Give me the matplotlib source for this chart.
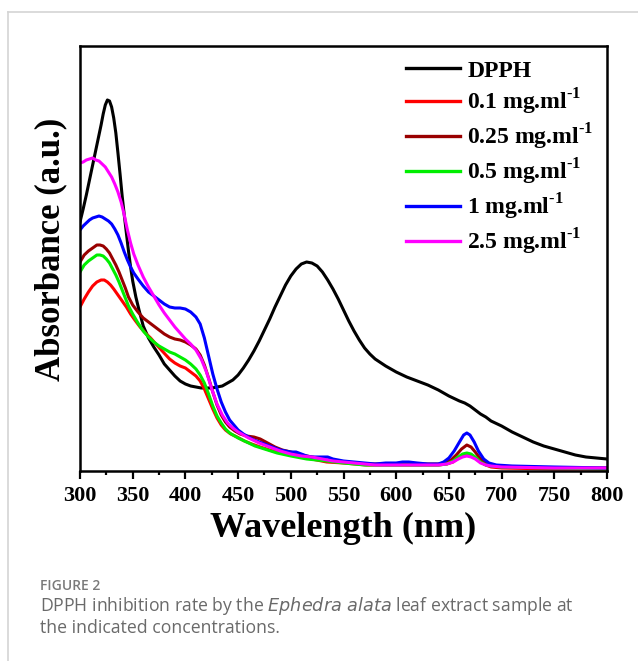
import numpy as np
import matplotlib
matplotlib.use("Agg")
from matplotlib import pyplot as plt
from matplotlib.lines import Line2D

# ---- data (absorbance, arbitrary units) ----
wl_dpph = [300, 303, 306, 309, 312, 315, 318, 320, 322, 324, 326, 328, 330, 332, 334, 336,
           338, 340, 342, 344, 346, 348, 350, 353, 356, 360, 365, 370, 375, 380, 385, 390,
           395, 400, 405, 410, 415, 420, 425, 430, 435, 440, 445, 450, 455, 460, 465, 470,
           475, 480, 485, 490, 495, 500, 505, 510, 515, 520, 525, 530, 535, 540, 545, 550,
           555, 560, 565, 570, 575, 580, 590, 600, 610, 620, 630, 640, 650, 660, 665, 670,
           675, 680, 685, 690, 700, 710, 720, 730, 740, 750, 760, 770, 780, 790, 800]
abs_dpph = [2.49, 2.62, 2.76, 2.91, 3.06, 3.21, 3.36, 3.46, 3.57, 3.66, 3.71, 3.70, 3.64,
            3.53, 3.38, 3.18, 2.97, 2.75, 2.56, 2.38, 2.20, 2.04, 1.90, 1.74, 1.61, 1.45,
            1.33, 1.24, 1.16, 1.07, 1.01, 0.95, 0.90, 0.87, 0.85, 0.84, 0.83, 0.83, 0.83,
            0.84, 0.85, 0.88, 0.91, 0.96, 1.03, 1.11, 1.20, 1.30, 1.41, 1.52, 1.64, 1.75,
            1.86, 1.95, 2.02, 2.07, 2.09, 2.08, 2.05, 1.99, 1.91, 1.82, 1.72, 1.61, 1.50,
            1.40, 1.31, 1.23, 1.17, 1.12, 1.05, 0.99, 0.94, 0.90, 0.86, 0.81, 0.75, 0.70,
            0.68, 0.65, 0.61, 0.57, 0.54, 0.50, 0.45, 0.39, 0.34, 0.29, 0.25, 0.22, 0.19,
            0.16, 0.14, 0.13, 0.12]

wl_01 = [300, 304, 308, 312, 316, 320, 323, 326, 329, 332, 336, 340, 344, 348, 352, 357,
         362, 367, 372, 378, 385, 390, 395, 400, 405, 410, 414, 418, 422, 426, 430, 434,
         438, 443, 449, 456, 463, 471, 480, 490, 502, 515, 534, 550, 572, 600, 620, 640,
         648, 654, 659, 663, 667, 671, 675, 680, 685, 690, 700, 750, 800]
abs_01 = [1.64, 1.72, 1.79, 1.85, 1.89, 1.91, 1.91, 1.89, 1.86, 1.82, 1.76, 1.70, 1.64,
          1.57, 1.51, 1.44, 1.38, 1.33, 1.27, 1.20, 1.12, 1.08, 1.05, 1.03, 0.99, 0.95,
          0.90, 0.82, 0.72, 0.62, 0.53, 0.46, 0.41, 0.37, 0.34, 0.30, 0.27, 0.24, 0.21,
          0.18, 0.16, 0.13, 0.09, 0.08, 0.06, 0.06, 0.06, 0.06, 0.07, 0.09, 0.13, 0.16,
          0.17, 0.16, 0.13, 0.09, 0.06, 0.04, 0.03, 0.02, 0.02]

wl_025 = [300, 304, 308, 312, 316, 319, 322, 325, 328, 331, 334, 337, 340, 343, 346, 350,
          355, 360, 365, 370, 375, 380, 385, 390, 395, 400, 405, 410, 414, 418, 422, 426,
          430, 434, 438, 442, 447, 452, 458, 465, 471, 478, 485, 492, 500, 510, 520, 534,
          550, 570, 600, 620, 640, 646, 652, 657, 662, 667, 671, 675, 680, 685, 690, 700,
          750, 800]
abs_025 = [2.09, 2.16, 2.20, 2.23, 2.26, 2.26, 2.25, 2.22, 2.18, 2.12, 2.06, 1.99, 1.91,
           1.83, 1.74, 1.66, 1.59, 1.53, 1.49, 1.45, 1.41, 1.37, 1.34, 1.32, 1.31, 1.29,
           1.26, 1.22, 1.16, 1.06, 0.93, 0.79, 0.66, 0.56, 0.49, 0.44, 0.40, 0.37, 0.35,
           0.34, 0.32, 0.28, 0.24, 0.21, 0.19, 0.16, 0.14, 0.11, 0.09, 0.07, 0.07, 0.07,
           0.07, 0.08, 0.11, 0.16, 0.22, 0.26, 0.24, 0.19, 0.12, 0.08, 0.05, 0.04, 0.03,
           0.03]

wl_05 = [300, 304, 308, 312, 316, 319, 322, 325, 328, 331, 334, 337, 340, 343, 346, 350,
         355, 360, 365, 370, 375, 380, 385, 390, 395, 400, 405, 410, 414, 418, 422, 426,
         430, 434, 438, 442, 450, 458, 466, 475, 487, 500, 515, 534, 550, 570, 600, 620,
         640, 648, 654, 659, 663, 667, 671, 675, 680, 685, 690, 700, 750, 800]
abs_05 = [1.99, 2.06, 2.10, 2.13, 2.16, 2.16, 2.15, 2.12, 2.08, 2.02, 1.96, 1.89, 1.81,
          1.73, 1.65, 1.57, 1.48, 1.40, 1.34, 1.29, 1.25, 1.22, 1.19, 1.17, 1.14, 1.11,
          1.07, 1.02, 0.96, 0.88, 0.77, 0.65, 0.55, 0.48, 0.42, 0.38, 0.33, 0.29, 0.25,
          0.22, 0.18, 0.15, 0.12, 0.10, 0.08, 0.06, 0.06, 0.06, 0.06, 0.07, 0.10, 0.14,
          0.17, 0.18, 0.17, 0.14, 0.09, 0.06, 0.05, 0.04, 0.03, 0.02]

wl_1 = [300, 303, 306, 309, 312, 315, 318, 321, 324, 327, 330, 333, 336, 339, 342, 345,
        348, 351, 355, 360, 365, 370, 375, 380, 385, 390, 395, 400, 405, 410, 414, 418,
        422, 426, 430, 434, 438, 442, 446, 450, 455, 460, 465, 470, 475, 480, 485, 490,
        495, 500, 505, 510, 515, 520, 525, 530, 535, 540, 545, 550, 560, 570, 580, 590,
        600, 606, 612, 620, 630, 640, 645, 650, 655, 660, 664, 667, 670, 674, 678, 683,
        688, 695, 710, 750, 800]
abs_1 = [2.41, 2.45, 2.48, 2.51, 2.53, 2.54, 2.55, 2.54, 2.52, 2.50, 2.47, 2.42, 2.36,
         2.28, 2.19, 2.11, 2.04, 1.98, 1.92, 1.85, 1.79, 1.75, 1.71, 1.67, 1.64, 1.63,
         1.63, 1.62, 1.59, 1.54, 1.47, 1.33, 1.15, 0.97, 0.82, 0.69, 0.59, 0.51, 0.46,
         0.41, 0.37, 0.34, 0.31, 0.29, 0.27, 0.25, 0.23, 0.21, 0.20, 0.19, 0.19, 0.17,
         0.15, 0.14, 0.14, 0.14, 0.14, 0.12, 0.11, 0.10, 0.09, 0.08, 0.07, 0.08, 0.08,
         0.09, 0.09, 0.08, 0.07, 0.07, 0.09, 0.13, 0.20, 0.29, 0.36, 0.38, 0.36, 0.29,
         0.20, 0.12, 0.08, 0.06, 0.05, 0.04, 0.03]

wl_25 = [300, 303, 306, 309, 312, 315, 318, 321, 324, 327, 330, 333, 336, 339, 342, 345,
         348, 351, 355, 360, 365, 370, 375, 380, 385, 390, 395, 400, 405, 410, 415, 420,
         425, 430, 435, 440, 445, 450, 460, 470, 480, 490, 500, 510, 520, 530, 540, 550,
         560, 570, 580, 600, 620, 640, 648, 654, 659, 663, 667, 671, 675, 680, 685, 690,
         700, 750, 800]
abs_25 = [3.08, 3.09, 3.11, 3.12, 3.13, 3.11, 3.10, 3.07, 3.04, 2.99, 2.94, 2.87, 2.79,
          2.69, 2.56, 2.41, 2.28, 2.17, 2.06, 1.94, 1.84, 1.75, 1.66, 1.58, 1.51, 1.44,
          1.38, 1.32, 1.27, 1.21, 1.12, 0.99, 0.82, 0.67, 0.56, 0.48, 0.43, 0.39, 0.33,
          0.28, 0.24, 0.20, 0.17, 0.15, 0.14, 0.12, 0.10, 0.09, 0.08, 0.07, 0.06, 0.06,
          0.06, 0.06, 0.07, 0.09, 0.12, 0.14, 0.15, 0.14, 0.12, 0.08, 0.06, 0.05, 0.04,
          0.03, 0.03]

labels = ["DPPH", "0.1 mg.ml$^{\\text{-}1}$", "0.25 mg.ml$^{\\text{-}1}$",
          "0.5 mg.ml$^{\\text{-}1}$", "1 mg.ml$^{\\text{-}1}$", "2.5 mg.ml$^{\\text{-}1}$"]
colors = ["black", "#ff0000", "#990000", "#00ee00", "#0000ff", "#ff00ff"]
series = [(wl_dpph, abs_dpph), (wl_01, abs_01), (wl_025, abs_025),
          (wl_05, abs_05), (wl_1, abs_1), (wl_25, abs_25)]

plt.rcParams['mathtext.fontset'] = 'custom'
plt.rcParams['mathtext.rm'] = 'Liberation Serif:bold'
plt.rcParams['mathtext.bf'] = 'Liberation Serif:bold'

fig = plt.figure(figsize=(6.38, 6.61), dpi=100)
W, H = 638, 661

# card frame (light gray lines top and left)
fig.add_artist(Line2D([8 / W, 1], [1 - 12 / H, 1 - 12 / H], color="#d4d4d4", lw=1.2))
fig.add_artist(Line2D([8 / W, 8 / W], [0, 1 - 12 / H], color="#d4d4d4", lw=1.2))

ax = fig.add_axes([80 / W, 1 - 471 / H, (607 - 80) / W, (471 - 46) / H])

for (x, y), c, lab in zip(series, colors, labels):
    ax.plot(x, y, color=c, lw=2.2, label=lab, solid_joinstyle="round")

ax.set_xlim(300, 800)
ax.set_ylim(0, 4.25)
ax.set_xticks(np.arange(300, 801, 50))
ax.set_xticks(np.arange(325, 800, 50), minor=True)
ax.set_yticks([])
for s in ax.spines.values():
    s.set_linewidth(1.8)
ax.tick_params(axis="x", which="major", direction="out", length=6, width=1.6, pad=5,
               top=False)
ax.tick_params(axis="x", which="minor", direction="out", length=3, width=1.6, top=False)
for t in ax.get_xticklabels():
    t.set_fontfamily("Liberation Serif")
    t.set_fontweight("bold")
    t.set_fontsize(16)

ax.set_xlabel("Wavelength (nm)", fontfamily="Liberation Serif", fontweight="bold",
              fontsize=26, labelpad=4)
fig.text(51 / W, 1 - 249 / H, "Absorbance (a.u.)", rotation=90, ha="center", va="center",
         fontfamily="Liberation Serif", fontweight="bold", fontsize=25)

leg = ax.legend(loc="upper left", bbox_to_anchor=((406 - 80) / 527, (471 - 60) / 425),
                frameon=False, borderpad=0, borderaxespad=0, handlelength=2.3,
                handletextpad=0.3, labelspacing=0.2,
                prop={"family": "Liberation Serif", "weight": "bold", "size": 17})
for ln in leg.get_lines():
    ln.set_linewidth(2.4)

# caption
fig.text(40 / W, 1 - 590 / H, "FIGURE 2", fontfamily="Open Sans", fontweight="semibold",
         fontsize=10, color="#7a7a7a", va="baseline")
fig.text(40 / W, 1 - 611 / H,
         "DPPH inhibition rate by the $\\it{Ephedra\\ alata}$ leaf extract sample at",
         fontfamily="Open Sans", fontsize=12.7, color="#6a6a6a", va="baseline")
fig.text(40 / W, 1 - 633 / H, "the indicated concentrations.", fontfamily="Open Sans",
         fontsize=12.7, color="#6a6a6a", va="baseline")

fig.savefig("out.png", dpi=100)
